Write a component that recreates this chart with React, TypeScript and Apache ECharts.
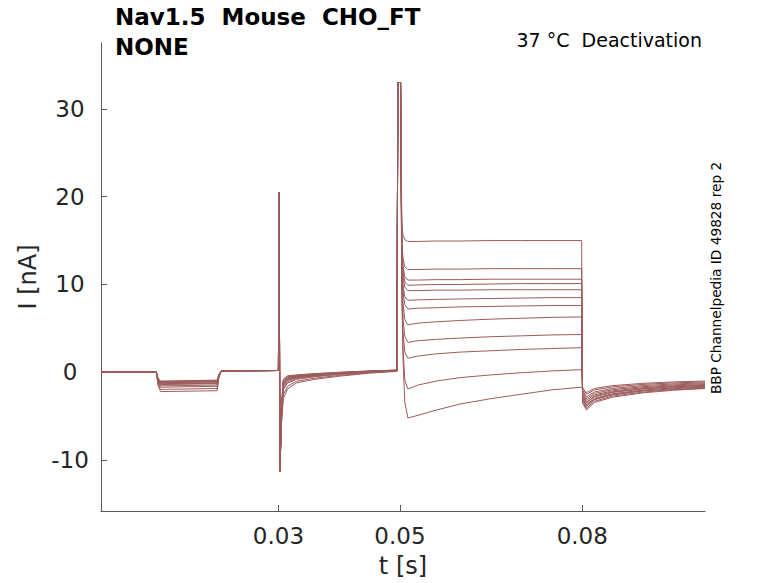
import { useEffect, useRef } from "react";
import * as echarts from "echarts";

// sample times [s], shared by all sweeps
const sampleTimes = [
  0.0008, 0.0099, 0.0102, 0.0106, 0.0199, 0.0202, 0.0206, 0.03, 0.0301, 0.03025,
  0.0305, 0.0308, 0.0315, 0.033, 0.036, 0.04, 0.045, 0.0495, 0.04965, 0.0501,
  0.0503, 0.0505, 0.0508, 0.0513, 0.053, 0.056, 0.06, 0.065, 0.07, 0.075,
  0.0799, 0.08005, 0.0807, 0.082, 0.085, 0.09, 0.095, 0.1002,
];

// current [nA] per sweep
const sweep01 = [0.05, 0.05, -0.7, -1.0, -0.9, -0.27, 0.15, 0.2, 20.5, -11.3, -4.0, -0.8, -0.4, -0.3, -0.15, 0.0, 0.15, 0.25, 33, 33, 17.0, 15.6, 15.1, 14.9, 14.9, 14.95, 14.95, 15.0, 15.0, 15.0, 15.0, -3.5, -4.3, -3.44, -2.83, -2.34, -2.05, -1.85];
const sweep02 = [0.05, 0.05, -0.74, -1.05, -0.95, -0.29, 0.15, 0.2, 20.5, -11.3, -4.1, -0.91, -0.48, -0.35, -0.18, -0.02, 0.14, 0.24, 33, 33, 15.0, 13.0, 12.0, 11.7, 11.7, 11.75, 11.75, 11.8, 11.8, 11.8, 11.8, -3.3, -4.1, -3.3, -2.72, -2.26, -1.98, -1.8];
const sweep03 = [0.05, 0.05, -0.77, -1.1, -1.0, -0.3, 0.15, 0.2, 20.5, -11.3, -4.2, -1.02, -0.55, -0.39, -0.22, -0.05, 0.13, 0.24, 33, 33, 14.6, 12.0, 10.9, 10.5, 10.5, 10.55, 10.55, 10.6, 10.6, 10.6, 10.6, -3.1, -3.9, -3.13, -2.58, -2.14, -1.88, -1.7];
const sweep04 = [0.05, 0.05, -0.8, -1.15, -1.05, -0.32, 0.15, 0.2, 20.5, -11.3, -4.3, -1.13, -0.63, -0.44, -0.25, -0.07, 0.11, 0.23, 33, 33, 14.4, 11.5, 10.3, 9.9, 9.95, 10.0, 10.0, 10.05, 10.1, 10.1, 10.1, -3.0, -3.8, -3.05, -2.51, -2.08, -1.82, -1.65];
const sweep05 = [0.05, 0.05, -0.84, -1.2, -1.1, -0.33, 0.15, 0.2, 20.5, -11.3, -4.4, -1.24, -0.7, -0.48, -0.28, -0.09, 0.1, 0.22, 33, 33, 14.2, 11.0, 9.7, 9.3, 9.3, 9.35, 9.35, 9.4, 9.4, 9.4, 9.4, -2.9, -3.7, -2.97, -2.44, -2.02, -1.77, -1.6];
const sweep06 = [0.05, 0.05, -0.91, -1.3, -1.2, -0.36, 0.15, 0.2, 20.5, -11.3, -4.5, -1.35, -0.78, -0.53, -0.31, -0.11, 0.09, 0.21, 33, 33, 13.8, 10.0, 8.6, 8.2, 8.25, 8.3, 8.35, 8.4, 8.45, 8.5, 8.5, -2.7, -3.5, -2.8, -2.3, -1.9, -1.66, -1.5];
const sweep07 = [0.05, 0.05, -0.95, -1.35, -1.25, -0.38, 0.15, 0.2, 20.5, -11.3, -4.6, -1.46, -0.85, -0.57, -0.35, -0.14, 0.08, 0.21, 33, 33, 13.5, 9.2, 7.7, 7.2, 7.3, 7.35, 7.45, 7.5, 7.55, 7.6, 7.6, -2.6, -3.4, -2.72, -2.23, -1.84, -1.61, -1.45];
const sweep08 = [0.05, 0.05, -0.98, -1.4, -1.3, -0.39, 0.15, 0.2, 20.5, -11.3, -4.7, -1.57, -0.93, -0.62, -0.38, -0.16, 0.06, 0.2, 33, 33, 13.0, 7.8, 6.0, 5.4, 5.6, 5.75, 5.9, 6.05, 6.15, 6.25, 6.3, -2.4, -3.2, -2.57, -2.12, -1.76, -1.54, -1.4];
const sweep09 = [0.05, 0.05, -1.09, -1.55, -1.45, -0.44, 0.15, 0.2, 20.5, -11.3, -4.9, -1.79, -1.08, -0.71, -0.44, -0.2, 0.04, 0.18, 33, 33, 12.3, 6.0, 4.1, 3.4, 3.6, 3.75, 3.9, 4.05, 4.15, 4.25, 4.3, -2.2, -3.0, -2.41, -1.98, -1.64, -1.44, -1.3];
const sweep10 = [0.05, 0.05, -1.19, -1.7, -1.6, -0.48, 0.15, 0.2, 20.5, -11.3, -5.1, -2.01, -1.23, -0.8, -0.51, -0.25, 0.01, 0.17, 33, 33, 11.6, 4.5, 2.3, 1.6, 1.85, 2.1, 2.3, 2.45, 2.6, 2.7, 2.8, -2.0, -2.8, -2.24, -1.84, -1.52, -1.33, -1.2];
const sweep11 = [0.05, 0.05, -1.37, -1.95, -1.85, -0.56, 0.15, 0.2, 20.5, -11.3, -5.6, -2.56, -1.6, -1.02, -0.67, -0.36, -0.05, 0.13, 33, 33, 10.3, 2.8, -0.9, -1.9, -1.45, -1.0, -0.6, -0.3, -0.05, 0.15, 0.3, -1.7, -2.5, -2.01, -1.66, -1.38, -1.21, -1.1];
const sweep12 = [0.05, 0.05, -1.54, -2.2, -2.1, -0.63, 0.15, 0.2, 20.5, -11.3, -6.0, -3.0, -1.9, -1.2, -0.8, -0.45, -0.1, 0.1, 33, 33, 9.1, 1.5, -3.4, -5.2, -4.9, -4.3, -3.6, -3.0, -2.5, -2.0, -1.7, -1.9, -2.3, -1.85, -1.52, -1.26, -1.1, -1.0];

const sweeps = [sweep01, sweep02, sweep03, sweep04, sweep05, sweep06, sweep07, sweep08, sweep09, sweep10, sweep11, sweep12];

const xTicks = [0.03, 0.05, 0.08];
const yTicks = [-10, 0, 10, 20, 30];

const traceColor = "#9c5c5c";
const font = "DejaVu Sans";

export default function App() {
  const chartRef = useRef<HTMLDivElement>(null);

  useEffect(() => {
    if (!chartRef.current) return;
    const chart = echarts.init(chartRef.current, null, { renderer: "svg" });

    const series = sweeps.map((vals, i) => ({
      name: "sweep " + (i + 1),
      type: "line" as const,
      data: sampleTimes.map((t, k) => [t, vals[k]]),
      showSymbol: false,
      smooth: false,
      lineStyle: { color: traceColor, width: 1 },
      itemStyle: { color: traceColor },
    }));

    chart.setOption({
      animation: false,
      grid: { left: 101, right: 73, top: 43, bottom: 71 },
      xAxis: {
        type: "value",
        min: 0.0008,
        max: 0.1002,
        name: "t [s]",
        nameLocation: "middle",
        nameGap: 43,
        nameTextStyle: { fontFamily: font, fontSize: 24, color: "#262626" },
        splitLine: { show: false },
        axisLine: { show: true, onZero: false, lineStyle: { color: "#595959", width: 1 } },
        axisTick: { show: true, inside: true, length: 6, customValues: xTicks, lineStyle: { color: "#595959" } },
        axisLabel: {
          customValues: xTicks,
          formatter: (v: number) => v.toFixed(2),
          fontFamily: font,
          fontSize: 23,
          color: "#262626",
          margin: 13,
        },
      },
      yAxis: {
        type: "value",
        min: -15.8,
        max: 37.5,
        name: "I [nA]",
        nameLocation: "middle",
        nameGap: 53,
        nameTextStyle: { fontFamily: font, fontSize: 24, color: "#262626" },
        splitLine: { show: false },
        axisLine: { show: true, onZero: false, lineStyle: { color: "#595959", width: 1 } },
        axisTick: { show: true, inside: true, length: 6, customValues: yTicks, lineStyle: { color: "#595959" } },
        axisLabel: {
          customValues: yTicks,
          fontFamily: font,
          fontSize: 23,
          color: "#262626",
          align: "center",
          margin: 31,
        },
      },
      graphic: [
        {
          type: "text",
          left: 115,
          top: 5,
          style: { text: "Nav1.5  Mouse  CHO_FT", fontFamily: font, fontSize: 23, fontWeight: "bold", fill: "#000" },
        },
        {
          type: "text",
          left: 115,
          top: 35,
          style: { text: "NONE", fontFamily: font, fontSize: 23, fontWeight: "bold", fill: "#000" },
        },
        {
          type: "text",
          x: 702,
          y: 40,
          style: {
            text: "37 °C  Deactivation",
            fontFamily: font,
            fontSize: 19,
            fill: "#000",
            align: "right",
            verticalAlign: "middle",
          },
        },
        {
          type: "text",
          x: 716,
          y: 278,
          rotation: Math.PI / 2,
          style: {
            text: "BBP Channelpedia ID 49828 rep 2",
            fontFamily: font,
            fontSize: 13.7,
            fill: "#000",
            align: "center",
            verticalAlign: "middle",
          },
        },
      ],
      series,
    });

    return () => chart.dispose();
  }, []);

  return (
    <div
      ref={chartRef}
      style={{ position: "absolute", left: 0, top: 0, width: 778, height: 583 }}
    />
  );
}
